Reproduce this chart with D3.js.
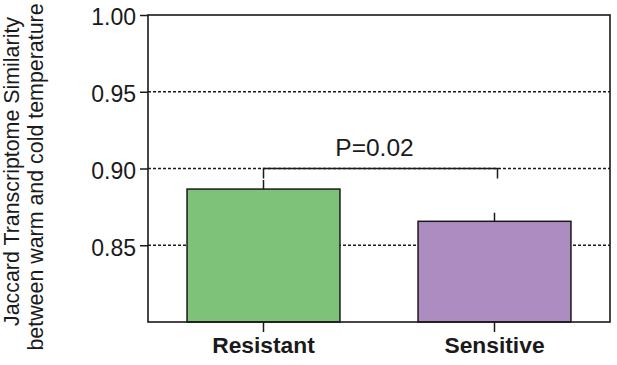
<!DOCTYPE html>
<html><head><meta charset="utf-8">
<script src="https://cdn.jsdelivr.net/npm/d3@7"></script>
<style>
html,body{margin:0;padding:0;background:#fff;}
svg{display:block;}
text{font-family:"Liberation Sans",Arial,Helvetica,sans-serif;fill:#1a1a1a;}
</style></head>
<body>
<svg id="chart" width="617" height="365"></svg>
<script>
const categories = ["Resistant", "Sensitive"];
const means = [0.8866, 0.8656];
const sem = [0.0059, 0.0056];
const colors = ["#7ec27a", "#ac8cc1"];
const yTicks = [0.85, 0.90, 0.95, 1.00];
const yDomain = [0.80, 1.00];
const pText = "P=0.02";
const bracketLevel = 0.90;
const bracketDrop = 0.8935;
const yTitle = ["Jaccard Transcriptome Similarity", "between warm and cold temperature"];

const svg = d3.select("#chart");
const L = 148, R = 610, T = 15, B = 322;
const x = d3.scaleBand().domain(categories).range([L, R]).paddingInner(0.338).paddingOuter(0.169);
const y = d3.scaleLinear().domain(yDomain).range([B, T]);
const ink = "#1a1a1a";

// grid lines
svg.append("g").selectAll("line").data(yTicks.filter(d => d < 1)).join("line")
  .attr("x1", L).attr("x2", R).attr("y1", d => y(d)).attr("y2", d => y(d))
  .attr("stroke", ink).attr("stroke-width", 1.3).attr("stroke-dasharray", "3,2");

// bars
svg.append("g").selectAll("rect").data(categories).join("rect")
  .attr("x", d => x(d)).attr("width", x.bandwidth())
  .attr("y", (d, i) => y(means[i])).attr("height", (d, i) => B - y(means[i]))
  .attr("fill", (d, i) => colors[i]).attr("stroke", ink).attr("stroke-width", 1.5);

// error bars
svg.append("g").selectAll("line").data(categories).join("line")
  .attr("x1", d => x(d) + x.bandwidth() / 2).attr("x2", d => x(d) + x.bandwidth() / 2)
  .attr("y1", (d, i) => y(means[i])).attr("y2", (d, i) => y(means[i] + sem[i]))
  .attr("stroke", ink).attr("stroke-width", 1.5);

// bracket
const cx0 = x(categories[0]) + x.bandwidth() / 2, cx1 = x(categories[1]) + x.bandwidth() / 2 + 3;
svg.append("path")
  .attr("d", `M${cx0},${y(bracketDrop)}V${y(bracketLevel)}H${cx1}V${y(bracketDrop)}`)
  .attr("fill", "none").attr("stroke", ink).attr("stroke-width", 1.5);
svg.append("text").attr("x", (cx0 + cx1) / 2 - 6).attr("y", 156)
  .attr("text-anchor", "middle").attr("font-size", 24.5).text(pText);

// frame
svg.append("rect").attr("x", L).attr("y", T).attr("width", R - L).attr("height", B - T)
  .attr("fill", "none").attr("stroke", ink).attr("stroke-width", 1.6);

// y axis
const yAxis = d3.axisLeft(y).tickValues(yTicks).tickFormat(d3.format(".2f")).tickSize(8).tickPadding(4);
const gy = svg.append("g").attr("transform", `translate(${L},0)`).call(yAxis);
gy.select(".domain").remove();
gy.selectAll(".tick line").attr("stroke", ink).attr("stroke-width", 1.5);
gy.selectAll(".tick text").attr("font-size", 23).attr("dy", "0.43em").attr("fill", ink)
  .style("font-family", '"Liberation Sans",Arial,sans-serif');

// x axis
const xAxis = d3.axisBottom(x).tickSize(10).tickPadding(6);
const gx = svg.append("g").attr("transform", `translate(0,${B})`).call(xAxis);
gx.select(".domain").remove();
gx.selectAll(".tick line").attr("stroke", ink).attr("stroke-width", 1.5);
gx.selectAll(".tick text").attr("font-size", 22.8).attr("font-weight", "bold").attr("fill", ink)
  .attr("y", 31).attr("dy", 0)
  .style("font-family", '"Liberation Sans",Arial,sans-serif');

// y title
const yt = svg.append("text").attr("transform", "translate(19,0) rotate(-90)")
  .attr("text-anchor", "middle").attr("font-size", 21.4);
yt.append("tspan").attr("x", -171.5).attr("y", 0).text(yTitle[0]);
yt.append("tspan").attr("x", -177).attr("y", 24).text(yTitle[1]);
</script>
</body></html>
